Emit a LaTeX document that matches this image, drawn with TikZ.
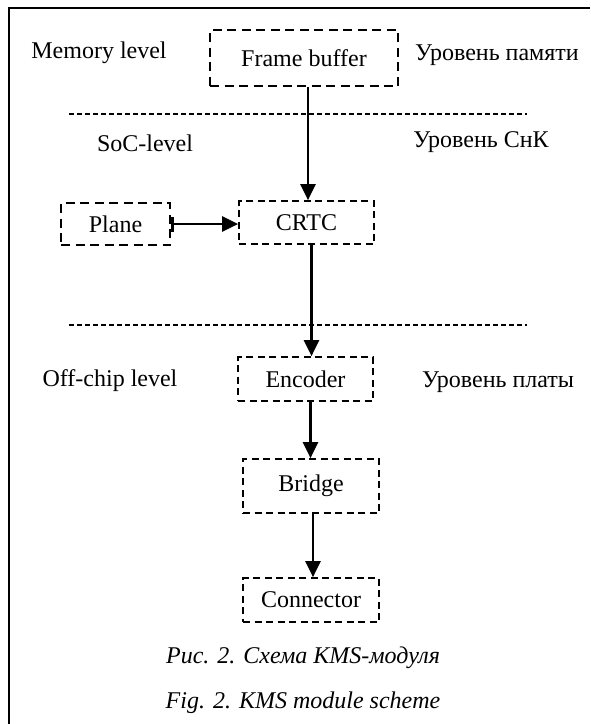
\documentclass[tikz,border=0pt]{standalone}
\usepackage{fontspec}
\setmainfont{Liberation Serif}
\usetikzlibrary{arrows.meta,positioning}

\begin{document}
\begin{tikzpicture}[
  x=1pt, y=-1pt,
  font=\fontsize{24}{28}\selectfont,
  blk/.style={draw=black, line width=1.7pt, dash pattern=on 7pt off 4.5pt,
              inner sep=0pt, align=center},
  blkbold/.style={blk, line width=2.7pt, dash pattern=on 9pt off 5.5pt},
  lbl/.style={inner sep=0pt, anchor=center},
  sep/.style={line width=1.1pt, dash pattern=on 5pt off 3pt},
  arr/.style={-{Triangle[length=16pt, width=15pt]}, line width=2.6pt},
  barr/.style={{Bar[width=15pt, line width=2.6pt]}-{Triangle[length=16pt, width=15pt]}, line width=2.6pt}
]
\useasboundingbox (0,0) rectangle (590,724);
% --- frame ---
\draw[line width=1.9pt] (9,724) -- (9,8) -- (590,8);
% --- level separators ---
\coordinate (l1a) at (69,114);
\coordinate (l1b) at (527,114);
\coordinate (l2a) at (69,325);
\coordinate (l2b) at (527,325);
\draw[sep] (l1a) -- (l1b);
\draw[sep] (l2a) -- (l2b);
% --- level labels ---
\node[lbl] (mem)   at (99,53)   {Memory level};
\node[lbl] (memru) at (497,55)  {Уровень памяти};
\node[lbl] (soc)   at (145,143) {SoC-level};
\node[lbl] (socru) at (481,142) {Уровень СнК};
\node[lbl] (off)   at (110,381) {Off-chip level};
\node[lbl] (offru) at (498,382) {Уровень платы};
% --- blocks ---
\node[blkbold, minimum width=188pt, minimum height=56pt] (fb)    at (304,58)    {Frame buffer};
\node[blkbold, minimum width=109pt, minimum height=42pt] (plane) at (115.5,224) {Plane};
\node[blk, minimum width=135pt, minimum height=43pt] (crtc)  at (306.5,222.5) {CRTC};
\node[blk, minimum width=135pt, minimum height=44pt] (enc)   at (305.5,379)   {Encoder};
\node[blk, minimum width=136pt, minimum height=54pt] (brg)   at (311,486)     {Bridge};
\node[blk, minimum width=136pt, minimum height=44pt] (con)   at (311,600)     {Connector};
% --- arrows ---
\draw[arr] ([xshift=4pt]fb.south) -- ([xshift=4pt]fb.south |- crtc.north);
\draw[barr] (plane.east) -- (plane.east -| crtc.west);
\draw[arr] ([xshift=5pt]crtc.south) -- ([xshift=5pt]crtc.south |- enc.north);
\draw[arr] ([xshift=5pt]enc.south) -- ([xshift=5pt]enc.south |- brg.north);
\draw[arr] ([xshift=2pt]brg.south) -- ([xshift=2pt]brg.south |- con.north);
% --- caption ---
\node[lbl] (capru) at (303,658) {\itshape Рис. 2. Схема KMS-модуля};
\node[lbl] (capen) at (303,703) {\itshape Fig. 2. KMS module scheme};
\end{tikzpicture}
\end{document}
